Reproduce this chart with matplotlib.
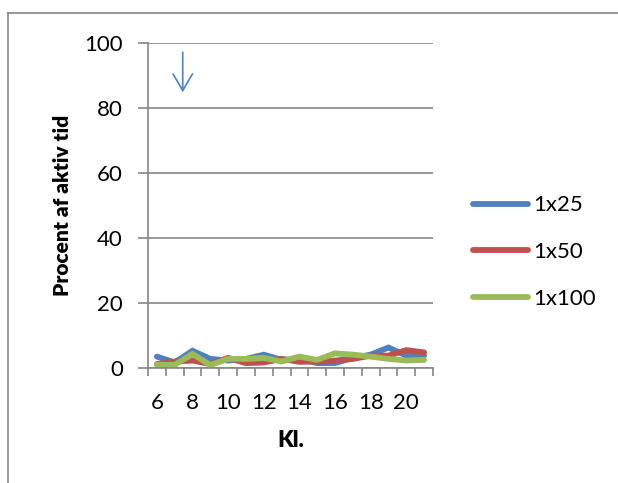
import numpy as np
import matplotlib
matplotlib.use("Agg")
import matplotlib.pyplot as plt
from matplotlib.lines import Line2D

plt.rcParams['font.family'] = ['Lato', 'DejaVu Sans']

# Klokkeslæt og andel af aktiv tid (%)
timer = [6, 7, 8, 9, 10, 11, 12, 13, 14, 15, 16, 17, 18, 19, 20, 21]
v_1x25 = [3.5, 1.7, 5.3, 2.8, 2.3, 2.8, 4.1, 2.5, 2.8, 1.5, 1.5, 3.1, 4.1, 6.3, 3.8, 3.8]
v_1x50 = [1.2, 2.0, 2.3, 1.2, 3.1, 1.5, 1.7, 2.8, 1.9, 2.0, 2.3, 2.8, 3.8, 3.8, 5.5, 4.8]
v_1x100 = [1.0, 1.0, 4.3, 0.9, 2.8, 2.8, 3.1, 2.0, 3.5, 2.5, 4.5, 4.1, 3.5, 2.8, 2.3, 2.5]

serier = ['1x25', '1x50', '1x100']
farver = ['#4F81BD', '#C0504D', '#9BBB59']
graa = '#868686'

fig = plt.figure(figsize=(6.18, 4.83), dpi=100)
ax = fig.add_axes([148 / 618, 1 - 368 / 483, 285 / 618, 325 / 483])

# ramme om diagrammet
fig.add_artist(Line2D([8 / 618, 8 / 618], [0, 1 - 13 / 483], color=graa, lw=1.2))
fig.add_artist(Line2D([8 / 618, 1], [1 - 13 / 483, 1 - 13 / 483], color=graa, lw=1.2))

x = np.arange(len(timer))
for navn, vals, c in zip(serier, [v_1x25, v_1x50, v_1x100], farver):
    ax.plot(x, vals, color=c, lw=4.2, label=navn,
            solid_joinstyle='miter', solid_capstyle='round')

ax.set_xlim(-0.5, len(timer) - 0.5)
ax.set_ylim(0, 100)
ax.set_yticks(np.arange(0, 101, 20))
ax.grid(axis='y', color=graa, lw=1.2)
ax.set_axisbelow(True)

ax.set_xticks(x[::2])
ax.set_xticklabels([str(t) for t in timer[::2]])
ax.set_xticks(np.arange(-0.5, len(timer), 1), minor=True)
ax.tick_params(axis='x', which='major', length=0, pad=18, labelsize=16)
ax.tick_params(axis='x', which='minor', length=5.5, width=1.2, color=graa)
ax.tick_params(axis='y', length=7, width=1.2, color=graa, labelsize=16, pad=11)

for s in ['top', 'right']:
    ax.spines[s].set_visible(False)
for s in ['left', 'bottom']:
    ax.spines[s].set_color(graa)
    ax.spines[s].set_linewidth(1.2)

ax.set_ylabel('Procent af aktiv tid', fontsize=15, fontweight='heavy', labelpad=9)
ax.set_xlabel('Kl.', fontsize=16, fontweight='heavy', labelpad=12)

ax.legend(loc='center left', bbox_to_anchor=(1.14, 0.357), frameon=False,
          fontsize=16, handlelength=2.5, handletextpad=0.2, labelspacing=1.2,
          borderpad=0, borderaxespad=0)

ax.annotate('', xy=(1.45, 84), xytext=(1.45, 98),
            arrowprops=dict(arrowstyle='->,head_length=1.2,head_width=0.7',
                            color='#4F81BD', lw=1.2))

fig.savefig('out.png', dpi=100)
